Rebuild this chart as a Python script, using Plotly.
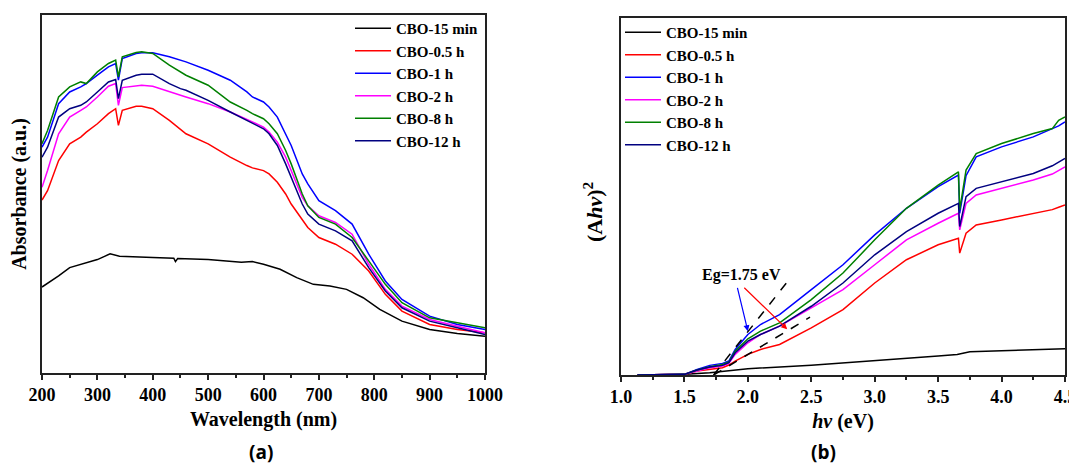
import plotly.graph_objects as go

# ---------- Panel (a): UV-Vis absorbance ----------
names = ["CBO-15 min", "CBO-0.5 h", "CBO-1 h", "CBO-2 h", "CBO-8 h", "CBO-12 h"]
colors = ["#000000", "#ff0000", "#0000ff", "#ff00ff", "#008000", "#000080"]

wl_15min = [200, 230, 250, 280, 300, 323, 340, 400, 438, 441, 445, 500, 560, 580, 600, 630, 660, 690, 720, 750, 780, 810, 850, 900, 950, 1000]
ab_15min = [0.257, 0.29, 0.315, 0.33, 0.339, 0.356, 0.349, 0.345, 0.343, 0.333, 0.342, 0.339, 0.331, 0.333, 0.325, 0.31, 0.285, 0.265, 0.26, 0.25, 0.225, 0.19, 0.155, 0.13, 0.118, 0.11]

wl = [200, 210, 230, 250, 270, 280, 300, 320, 333, 338, 345, 370, 380, 400, 430, 450, 460, 500, 540, 570, 580, 600, 610, 625, 640, 650, 670, 680, 700, 730, 760, 790, 820, 850, 900, 950, 1000]
ab_05h = [0.517, 0.545, 0.635, 0.685, 0.705, 0.72, 0.745, 0.775, 0.79, 0.74, 0.785, 0.797, 0.797, 0.79, 0.755, 0.73, 0.715, 0.685, 0.645, 0.62, 0.613, 0.605, 0.595, 0.57, 0.535, 0.505, 0.46, 0.435, 0.405, 0.385, 0.355, 0.305, 0.235, 0.185, 0.145, 0.13, 0.12]
ab_1h = [0.675, 0.705, 0.805, 0.84, 0.855, 0.865, 0.89, 0.915, 0.925, 0.875, 0.94, 0.955, 0.957, 0.957, 0.945, 0.935, 0.93, 0.905, 0.875, 0.84, 0.825, 0.81, 0.795, 0.765, 0.715, 0.68, 0.595, 0.565, 0.515, 0.485, 0.445, 0.355, 0.275, 0.22, 0.17, 0.145, 0.13]
ab_2h = [0.555, 0.605, 0.715, 0.765, 0.785, 0.795, 0.825, 0.857, 0.865, 0.80, 0.853, 0.858, 0.86, 0.857, 0.84, 0.83, 0.825, 0.805, 0.78, 0.758, 0.75, 0.735, 0.72, 0.69, 0.645, 0.605, 0.525, 0.5, 0.47, 0.45, 0.415, 0.325, 0.25, 0.2, 0.16, 0.14, 0.12]
ab_8h = [0.685, 0.725, 0.825, 0.855, 0.87, 0.865, 0.90, 0.925, 0.935, 0.885, 0.945, 0.958, 0.96, 0.955, 0.92, 0.90, 0.89, 0.86, 0.81, 0.785, 0.775, 0.76, 0.745, 0.715, 0.665, 0.625, 0.535, 0.5, 0.465, 0.445, 0.405, 0.335, 0.265, 0.21, 0.165, 0.15, 0.135]
ab_12h = [0.645, 0.675, 0.765, 0.79, 0.80, 0.81, 0.84, 0.87, 0.877, 0.82, 0.875, 0.89, 0.893, 0.893, 0.865, 0.85, 0.845, 0.815, 0.78, 0.755, 0.745, 0.73, 0.715, 0.68, 0.625, 0.585, 0.505, 0.475, 0.445, 0.425, 0.395, 0.315, 0.245, 0.195, 0.155, 0.135, 0.115]

# ---------- Panel (b): Tauc plot ----------
hv_15min = [1.13, 1.5, 1.7, 2.0, 2.5, 3.0, 3.5, 3.65, 3.75, 4.0, 4.5]
th_15min = [0.0, 0.002, 0.007, 0.019, 0.029, 0.042, 0.057, 0.062, 0.07, 0.073, 0.079]

hv = [1.13, 1.5, 1.6, 1.7, 1.8, 1.85, 1.9, 2.0, 2.1, 2.25, 2.5, 2.75, 3.0, 3.25, 3.5, 3.66, 3.67, 3.72, 3.8, 4.0, 4.25, 4.4, 4.45, 4.5]
th_05h = [0.0, 0.002, 0.012, 0.017, 0.022, 0.03, 0.042, 0.062, 0.077, 0.092, 0.142, 0.197, 0.277, 0.347, 0.392, 0.412, 0.367, 0.427, 0.452, 0.467, 0.487, 0.498, 0.505, 0.512]
th_1h = [0.0, 0.002, 0.017, 0.029, 0.035, 0.042, 0.077, 0.122, 0.152, 0.182, 0.257, 0.332, 0.422, 0.502, 0.567, 0.602, 0.487, 0.60, 0.657, 0.687, 0.717, 0.74, 0.75, 0.762]
th_2h = [0.0, 0.002, 0.012, 0.022, 0.027, 0.035, 0.062, 0.097, 0.122, 0.147, 0.202, 0.257, 0.332, 0.407, 0.457, 0.487, 0.437, 0.517, 0.542, 0.562, 0.587, 0.605, 0.615, 0.627]
th_8h = [0.0, 0.002, 0.015, 0.025, 0.032, 0.039, 0.072, 0.109, 0.132, 0.157, 0.227, 0.307, 0.407, 0.502, 0.572, 0.612, 0.497, 0.617, 0.667, 0.697, 0.727, 0.742, 0.767, 0.777]
th_12h = [0.0, 0.002, 0.015, 0.024, 0.029, 0.037, 0.067, 0.102, 0.122, 0.147, 0.207, 0.277, 0.362, 0.432, 0.487, 0.517, 0.447, 0.537, 0.562, 0.582, 0.607, 0.63, 0.64, 0.652]

tangent1_x = [1.73, 2.31]
tangent1_y = [0.0, 0.28]
tangent2_x = [1.73, 2.49]
tangent2_y = [0.0, 0.174]

eg_label = "Eg=1.75 eV"

FONT = "Liberation Serif"
W, H = 1069, 458  # page body has an 8px margin


def px(xp):
    return (xp - 8) / W


def py(yp):
    return 1 - (yp - 8) / H


fig = go.Figure()

a_x = [wl_15min] + [wl] * 5
a_y = [ab_15min, ab_05h, ab_1h, ab_2h, ab_8h, ab_12h]
for n, c, xs, ys in zip(names, colors, a_x, a_y):
    fig.add_trace(go.Scatter(x=xs, y=ys, mode="lines", name=n, line=dict(color=c, width=1.5),
                             xaxis="x", yaxis="y", legend="legend"))

b_x = [hv_15min] + [hv] * 5
b_y = [th_15min, th_05h, th_1h, th_2h, th_8h, th_12h]
for n, c, xs, ys in zip(names, colors, b_x, b_y):
    fig.add_trace(go.Scatter(x=xs, y=ys, mode="lines", name=n, line=dict(color=c, width=1.5),
                             xaxis="x2", yaxis="y2", legend="legend2"))

for tx, ty in [(tangent1_x, tangent1_y), (tangent2_x, tangent2_y)]:
    fig.add_trace(go.Scatter(x=tx, y=ty, mode="lines", showlegend=False,
                             line=dict(color="black", width=1.5, dash="dash"),
                             xaxis="x2", yaxis="y2"))

axis_common = dict(showline=True, linecolor="#222", linewidth=1.5, mirror=True,
                   showgrid=False, zeroline=False, automargin=False)
tickfont = dict(family=FONT, size=18, color="black", weight="bold")
titlefont = dict(family=FONT, size=20, color="black", weight="bold")
legfont = dict(family=FONT, size=15, color="black", weight="bold")

fig.update_layout(
    width=W, height=H,
    margin=dict(l=0, r=0, t=0, b=0, autoexpand=False),
    paper_bgcolor="white", plot_bgcolor="white",
    font=dict(family=FONT, color="black"),
    xaxis=dict(domain=[px(42), px(485)], range=[200, 1000],
               tickvals=[200, 300, 400, 500, 600, 700, 800, 900, 1000],
               ticks="outside", ticklen=5, tickwidth=1.5, tickcolor="#222",
               minor=dict(ticks="outside", dtick=50, ticklen=3, tickcolor="#222"),
               tickfont=tickfont, anchor="y",
               title=dict(text="Wavelength (nm)", font=titlefont, standoff=8),
               **axis_common),
    yaxis=dict(domain=[py(373), py(15)], range=[0, 1.07], showticklabels=False, ticks="", anchor="x",
               title=dict(text="Absorbance (a.u.)", font=titlefont, standoff=10),
               **axis_common),
    xaxis2=dict(domain=[px(621), px(1065)], range=[1.0, 4.5], dtick=0.5, tickformat=".1f",
                ticks="outside", ticklen=5, tickwidth=1.5, tickcolor="#222",
                minor=dict(ticks="outside", dtick=0.25, ticklen=3, tickcolor="#222"),
                tickfont=tickfont, anchor="y2",
                title=dict(text="<i>hv</i> (eV)", font=titlefont, standoff=8),
                **axis_common),
    yaxis2=dict(domain=[py(375), py(18)], range=[0, 1.075], showticklabels=False, ticks="", anchor="x2",
                **axis_common),
    legend=dict(x=px(350), y=py(12), xanchor="left", yanchor="top", bgcolor="rgba(0,0,0,0)",
                font=legfont, itemwidth=36, tracegroupgap=0),
    legend2=dict(x=px(620), y=py(16), xanchor="left", yanchor="top", bgcolor="rgba(0,0,0,0)",
                 font=legfont, itemwidth=36, tracegroupgap=0),
    showlegend=True,
)

fig.add_annotation(text="(A<i>hv</i>)<sup>2</sup>", x=px(593), y=py(212), xref="paper", yref="paper",
                   showarrow=False, textangle=-90, xanchor="center", yanchor="middle",
                   font=dict(family=FONT, size=22, color="black", weight="bold"))
fig.add_annotation(text="(a)", x=px(247), y=py(452), xref="paper", yref="paper", showarrow=False,
                   yanchor="middle", font=dict(family="Open Sans", size=19, weight="bold"))
fig.add_annotation(text="(b)", x=px(838), y=py(452), xref="paper", yref="paper", showarrow=False,
                   yanchor="middle", font=dict(family="Open Sans", size=19, weight="bold"))

fig.add_annotation(text=eg_label, x=1.95, y=0.30, xref="x2", yref="y2", showarrow=False,
                   font=dict(family=FONT, size=16, weight="bold"))
fig.add_annotation(x=2.0, y=0.132, ax=1.915, ay=0.267, xref="x2", yref="y2", axref="x2", ayref="y2",
                   showarrow=True, arrowhead=2, arrowsize=1, arrowwidth=1.2, arrowcolor="#0000ff", text="")
fig.add_annotation(x=2.31, y=0.138, ax=1.96, ay=0.267, xref="x2", yref="y2", axref="x2", ayref="y2",
                   showarrow=True, arrowhead=2, arrowsize=1, arrowwidth=1.2, arrowcolor="#ff0000", text="")

fig.write_html("out.html")
